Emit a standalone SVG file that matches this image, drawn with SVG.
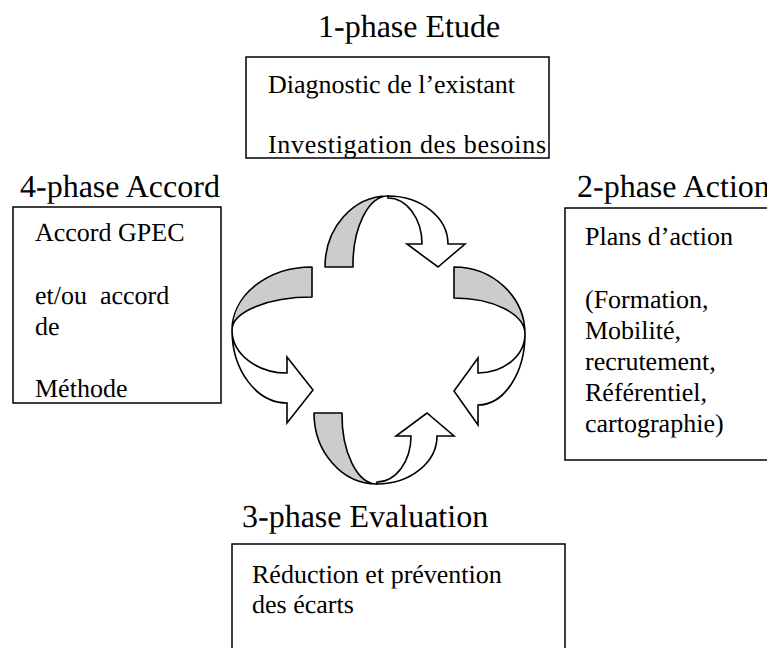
<svg xmlns="http://www.w3.org/2000/svg" width="767" height="648" viewBox="0 0 767 648" text-rendering="geometricPrecision">
<style>
.title{font-family:"Liberation Serif","Times New Roman","DejaVu Serif",serif;font-size:32px;fill:#000}
.body{font-family:"Liberation Serif","Times New Roman","DejaVu Serif",serif;font-size:26px;fill:#000}
.box{fill:#fff;stroke:#000;stroke-width:1.5}
.back{fill:#cccccc;stroke:#000;stroke-width:1.6;stroke-linejoin:round}
.front{fill:#fff;stroke:#000;stroke-width:1.6;stroke-linejoin:miter}
</style>
<defs>
<clipPath id="clipTop"><rect x="246" y="57" width="303" height="101"/></clipPath>
</defs>
<rect width="767" height="648" fill="#fff"/>

<g id="phase1">
<text class="title" x="318" y="37">1-phase Etude</text>
<rect class="box" x="246" y="57" width="303" height="101"/>
<g clip-path="url(#clipTop)">
<text class="body" x="268" y="93">Diagnostic de l’existant</text>
<text class="body" x="268" y="153" textLength="278" lengthAdjust="spacing">Investigation des besoins</text>
</g>
</g>

<g id="phase2">
<text class="title" x="577" y="197">2-phase Action</text>
<rect class="box" x="565" y="208" width="220" height="252"/>
<text class="body" x="585" y="245">Plans d’action</text>
<text class="body" x="585" y="308">(Formation,</text>
<text class="body" x="585" y="339">Mobilité,</text>
<text class="body" x="585" y="370">recrutement,</text>
<text class="body" x="585" y="401">Référentiel,</text>
<text class="body" x="585" y="432">cartographie)</text>
</g>

<g id="phase3">
<text class="title" x="242" y="527">3-phase Evaluation</text>
<rect class="box" x="232" y="544" width="333" height="130"/>
<text class="body" x="252" y="583">Réduction et prévention</text>
<text class="body" x="252" y="613">des écarts</text>
</g>

<g id="phase4">
<text class="title" x="20" y="197">4-phase Accord</text>
<rect class="box" x="13" y="207" width="208" height="196"/>
<text class="body" x="35" y="241">Accord GPEC</text>
<text class="body" x="35" y="304" xml:space="preserve">et/ou  accord</text>
<text class="body" x="35" y="335">de</text>
<text class="body" x="35" y="397">Méthode</text>
</g>

<g id="connectors">
<g id="arrowTop">
<path class="back" d="M325,267 A63,71 0 0 1 388,196 A35,69 0 0 0 353,267 Z"/>
<path class="front" d="M388,196 A60,48 0 0 1 448,244 L465,244 L438,267 L407,244 L422,244 A34,46 0 0 0 388,198 Z"/>
</g>
<g id="arrowRight">
<path class="back" d="M454,267 A71,67 0 0 1 525,334 A71,36 0 0 0 454,298 Z"/>
<path class="front" d="M525,334 A47,71 0 0 1 478,405 L478,425 L454,391 L478,358 L478,373 A47,39 0 0 0 525,334 Z"/>
</g>
<g id="arrowBottom" transform="translate(-11,680) scale(1,-1)">
<path class="back" d="M325,267 A63,71 0 0 1 388,196 A35,69 0 0 0 353,267 Z"/>
<path class="front" d="M388,196 A60,48 0 0 1 448,244 L465,244 L438,267 L407,244 L422,244 A34,46 0 0 0 388,198 Z"/>
</g>
<g id="arrowLeft">
<path class="back" d="M312,267 A80,63 0 0 0 232,330 A80,33 0 0 1 312,297 Z"/>
<path class="front" d="M232,330 A55,73 0 0 0 287,403 L287,423 L313,390 L287,357 L287,373 A55,43 0 0 1 232,330 Z"/>
</g>
</g>
</svg>
